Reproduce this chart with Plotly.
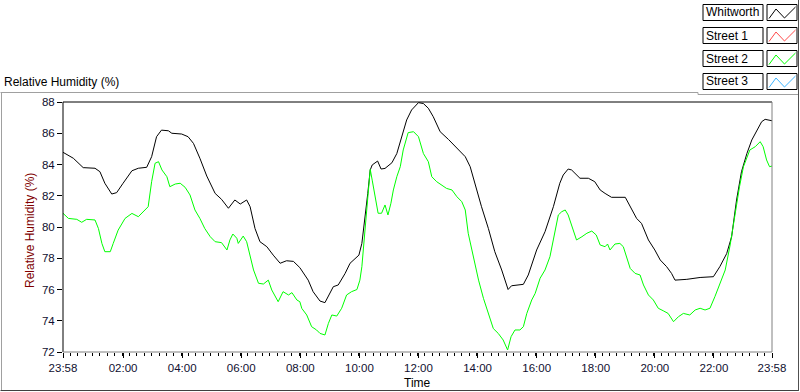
import plotly.graph_objects as go

# ---------------- data ----------------
start_clock = "23:58"
x_tick_labels = ["23:58", "02:00", "04:00", "06:00", "08:00", "10:00", "12:00",
                 "14:00", "16:00", "18:00", "20:00", "22:00", "23:58"]
y_ticks = [72, 74, 76, 78, 80, 82, 84, 86, 88]

series_names = ["Whitworth", "Street 1", "Street 2", "Street 3"]
series_colors = ["#000000", "#ff4a4a", "#00ff00", "#3cb4ff"]

# minutes elapsed since 23:58
whitworth_min = [0, 21, 41, 65, 75, 85, 99, 109, 122, 140, 153, 170, 180, 190, 200, 214, 221, 241, 254, 265,
                 278, 292, 309, 322, 336, 349, 360, 373, 380, 390, 400, 414, 427, 441, 454, 468, 481, 498, 508, 522,
                 532, 539, 549, 559, 573, 583, 593, 601, 607, 613, 619, 624, 628, 639, 646, 654, 668, 678, 688, 698,
                 708, 722, 732, 742, 752, 766, 783, 803, 817, 827, 840, 850, 864, 877, 891, 904, 911, 935, 945, 957,
                 962, 979, 996, 1009, 1016, 1026, 1033, 1050, 1067, 1080, 1091, 1101, 1114, 1142, 1152, 1165, 1175,
                 1189, 1202, 1213, 1226, 1236, 1243, 1267, 1294, 1321, 1334, 1348, 1358, 1368, 1378, 1389, 1399,
                 1409, 1419, 1426, 1432, 1440]
whitworth_rh = [84.78, 84.4, 83.8, 83.76, 83.54, 82.8, 82.11, 82.2, 82.8, 83.6, 83.76, 83.82, 84.5, 85.78, 86.2,
                86.16, 86.0, 85.95, 85.78, 85.35, 84.4, 83.26, 82.15, 81.77, 81.2, 81.73, 81.47, 81.73, 81.3, 79.9,
                79.06, 78.74, 78.2, 77.68, 77.84, 77.8, 77.4, 76.6, 75.86, 75.26, 75.16, 75.54, 76.18, 76.29, 77.03,
                77.68, 78.0, 78.2, 78.95, 80.45, 82.15, 83.65, 83.97, 84.22, 83.71, 83.75, 84.11, 84.7, 85.78, 86.85,
                87.49, 87.96, 87.9, 87.6, 87.06, 86.1, 85.6, 84.93, 84.5, 83.86, 82.37, 81.3, 79.9, 78.42, 77.25,
                76.0, 76.24, 76.33, 76.93, 78.1, 78.53, 79.7, 81.3, 82.8, 83.33, 83.71, 83.65, 83.12, 83.12, 82.9,
                82.37, 82.15, 81.9, 81.9, 81.3, 80.55, 80.23, 79.17, 78.53, 77.89, 77.46, 77.03, 76.6, 76.65, 76.77,
                76.82, 77.46, 78.3, 79.38, 81.73, 83.54, 84.7, 85.57, 86.2, 86.74, 86.89, 86.85, 86.8]

street2_min = [0, 11, 28, 38, 48, 65, 72, 79, 85, 96, 102, 112, 126, 140, 153, 163, 173, 180, 187, 194,
               201, 211, 217, 228, 238, 248, 258, 268, 278, 288, 299, 309, 322, 333, 339, 345, 353, 356, 366, 373,
               380, 387, 397, 407, 417, 424, 437, 447, 458, 465, 475, 481, 485, 495, 505, 515, 522, 532, 539, 546,
               556, 566, 576, 586, 597, 603, 607, 611, 615, 619, 624, 628, 634, 640, 647, 654, 660, 666, 671, 678,
               685, 691, 701, 712, 722, 732, 742, 749, 759, 769, 779, 790, 800, 810, 817, 823, 833, 844, 854, 864,
               874, 884, 894, 903, 910, 918, 928, 935, 942, 952, 959, 969, 979, 989, 999, 1006, 1013, 1020, 1026,
               1033, 1043, 1054, 1064, 1074, 1083, 1091, 1101, 1106, 1111, 1121, 1131, 1138, 1145, 1152, 1162,
               1172, 1179, 1189, 1199, 1209, 1219, 1229, 1240, 1250, 1260, 1273, 1284, 1294, 1304, 1314, 1324,
               1334, 1345, 1355, 1365, 1374, 1382, 1395, 1406, 1416, 1422, 1429, 1435, 1440]
street2_rh = [80.88, 80.55, 80.49, 80.3, 80.49, 80.45, 79.9, 78.95, 78.42, 78.42,
              78.95, 79.8, 80.55, 80.87, 80.66, 80.98, 81.3, 82.9, 84.08, 84.18,
              83.65, 83.22, 82.58, 82.75, 82.8, 82.54, 82.05, 81.09, 80.55, 79.9,
              79.38, 79.06, 79.0, 78.53, 79.17, 79.55, 79.28, 78.95, 79.42, 79.06,
              78.2, 77.25, 76.4, 76.35, 76.6, 75.97, 75.22, 75.86, 75.65, 75.8,
              75.33, 75.22, 74.79, 74.37, 73.62, 73.41, 73.19, 73.09, 73.83, 74.37,
              74.3, 74.8, 75.65, 75.86, 76.0, 76.6, 77.46, 78.95, 80.88, 82.37,
              83.69, 83.0, 82.05, 80.88, 80.88, 81.41, 80.77, 81.52, 82.37, 83.22,
              83.86, 84.93, 86.04, 86.1, 85.78, 84.7, 84.18, 83.22, 82.9, 82.69,
              82.47, 82.37, 81.94, 81.62, 81.09, 79.6, 78.1, 76.6, 75.43, 74.47,
              73.5, 73.19, 72.77, 72.13, 72.98, 73.41, 73.41, 73.62, 74.47, 75.33,
              75.75, 76.72, 77.25, 78.1, 79.6, 80.77, 80.98, 81.09, 80.77, 80.13,
              79.17, 79.38, 79.6, 79.74, 79.49, 78.85, 78.74, 78.91, 78.53, 78.91,
              78.95, 78.74, 78.1, 77.35, 77.03, 76.93, 76.29, 75.65, 75.33, 74.8,
              74.64, 74.47, 73.94, 74.26, 74.47, 74.37, 74.69, 74.8, 74.69, 74.8,
              75.54, 76.4, 77.25, 78.85, 80.88, 82.58, 83.86, 84.93, 85.14, 85.46,
              85.14, 84.29, 83.86, 83.9]

# ---------------- geometry helpers (pixel -> paper) ----------------
W, H = 800, 392
L, R, T, B = 63, 772, 102, 352


def px(x):
    return (x - L) / (R - L)


def py(y):
    return (B - y) / (B - T)


def clock_to_min(s):
    h, m = map(int, s.split(":"))
    return h * 60 + m


s0 = clock_to_min(start_clock)
tickvals = [(clock_to_min(t) - s0) % 1440 for t in x_tick_labels]
tickvals[-1] = 1440

FONT = "Liberation Sans, Arial, sans-serif"
TICKCOL = "#101030"

fig = go.Figure()
fig.add_trace(go.Scatter(x=whitworth_min, y=whitworth_rh, mode="lines", name=series_names[0],
                         line=dict(color=series_colors[0], width=1), showlegend=False))
fig.add_trace(go.Scatter(x=street2_min, y=street2_rh, mode="lines", name=series_names[2],
                         line=dict(color=series_colors[2], width=1), showlegend=False))

shapes = []


def line(x0, y0, x1, y1, color, width=1):
    shapes.append(dict(type="line", xref="paper", yref="paper", x0=px(x0), y0=py(y0),
                       x1=px(x1), y1=py(y1), line=dict(color=color, width=width)))


# plot-area border (sunken look)
line(L, T, R, T, "#000000")
line(L, T, L, B, "#000000")
line(L, B, R, B, "#808080")
line(R, T, R, B, "#808080")

# outer panel frame
line(0.5, 92.5, 698, 92.5, "#a0a0a0")
line(698, 92.5, 698, 94.5, "#a0a0a0")
line(698, 94.5, 798, 94.5, "#a0a0a0")
line(1.5, 92.5, 1.5, 391, "#a0a0a0")
line(0.5, 390.5, 799, 390.5, "#404040")
line(798.5, 0, 798.5, 391, "#505050")

annotations = []
row_centers = [12.5, 35.5, 58.5, 81.5]
for name, col, yc in zip(series_names, series_colors, row_centers):
    shapes.append(dict(type="rect", xref="paper", yref="paper", x0=px(703), x1=px(763),
                       y0=py(yc + 8), y1=py(yc - 8), line=dict(color="#000000", width=1),
                       fillcolor="white"))
    shapes.append(dict(type="rect", xref="paper", yref="paper", x0=px(767), x1=px(797),
                       y0=py(yc + 8), y1=py(yc - 8), line=dict(color="#000000", width=1),
                       fillcolor="white"))
    pts = [(769, yc + 6), (776, yc - 3.5), (784.5, yc + 5.5), (795.5, yc - 5.5)]
    path = "M " + " L ".join(f"{px(a):.5f},{py(b):.5f}" for a, b in pts)
    shapes.append(dict(type="path", xref="paper", yref="paper", path=path,
                       line=dict(color=col, width=1)))
    annotations.append(dict(text=name, xref="paper", yref="paper", x=px(704), y=py(yc),
                            xanchor="left", yanchor="middle", showarrow=False,
                            font=dict(family=FONT, size=12, color="#000000")))

annotations.append(dict(text="Relative Humidity (%)", xref="paper", yref="paper",
                        x=px(2), y=py(82), xanchor="left", yanchor="middle", showarrow=False,
                        font=dict(family=FONT, size=12, color="#000000")))
annotations.append(dict(text="Relative Humidity (%)", xref="paper", yref="paper",
                        x=px(30), y=py(231), xanchor="center", yanchor="middle", showarrow=False,
                        textangle=-90, font=dict(family=FONT, size=12, color="#800000")))
annotations.append(dict(text="Time", xref="paper", yref="paper",
                        x=0.5, y=py(383), xanchor="center", yanchor="middle", showarrow=False,
                        font=dict(family=FONT, size=12, color="#000000")))

fig.update_layout(
    width=W, height=H, autosize=False,
    margin=dict(l=L, r=W - R, t=T, b=H - B, pad=0),
    paper_bgcolor="white", plot_bgcolor="white",
    font=dict(family=FONT, size=11, color=TICKCOL),
    shapes=shapes, annotations=annotations,
    showlegend=False,
    xaxis=dict(range=[0, 1440], tickmode="array", tickvals=tickvals, ticktext=x_tick_labels,
               ticks="outside", ticklen=5, tickwidth=1, tickcolor="#000000",
               showgrid=False, zeroline=False, showline=False,
               tickfont=dict(family=FONT, size=11.5, color=TICKCOL),
               minor=dict(tickmode="linear", tick0=0, dtick=15, ticks="outside", ticklen=3,
                          tickcolor="#000000", showgrid=False)),
    yaxis=dict(range=[72, 88], tickmode="array", tickvals=y_ticks, ticktext=[str(v) for v in y_ticks],
               ticks="outside", ticklen=5, tickwidth=1, tickcolor="#000000",
               showgrid=False, zeroline=False, showline=False,
               tickfont=dict(family=FONT, size=11.5, color=TICKCOL)),
)

fig.write_html("out.html", config={"displayModeBar": False},
               post_script="document.body.style.margin='0';document.body.style.overflow='hidden';")
